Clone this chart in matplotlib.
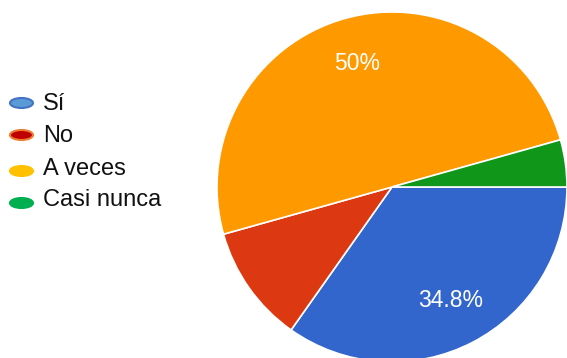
import matplotlib
matplotlib.use("Agg")
from matplotlib import pyplot as plt
from matplotlib.patches import Ellipse

# Survey answers (46 responses)
labels = ["Sí", "No", "A veces", "Casi nunca"]
counts = [16, 5, 23, 2]
pie_colors = ["#3366cc", "#dc3912", "#ff9900", "#109618"]
# legend swatches use a different palette in the original
legend_fill = ["#5b9bd5", "#c00000", "#ffc000", "#00b050"]
legend_edge = ["#4472c4", "#ed7d31", "#ffc000", "#00b050"]

plt.rcParams["font.family"] = ["Liberation Sans", "DejaVu Sans"]

W, H = 567, 358
fig = plt.figure(figsize=(W / 100, H / 100), dpi=100)

# Pie axes: centre at (392, 187) px, radius 175 px
cx, cy, r = 392, 187, 175
ax = fig.add_axes([(cx - r) / W, (H - cy - r) / H, 2 * r / W, 2 * r / H])


def fmt_pct(p):
    if p < 15:
        return ""
    return f"{p:.1f}".rstrip("0").rstrip(".") + "%"


wedges, texts, autotexts = ax.pie(
    counts, colors=pie_colors, startangle=0, counterclock=False,
    autopct=fmt_pct, pctdistance=0.73, radius=1.0,
    wedgeprops=dict(edgecolor="white", linewidth=1.2),
    textprops=dict(color="white", fontsize=16.5),
)
ax.set_xlim(-1, 1)
ax.set_ylim(-1, 1)
ax.set_aspect("equal")
ax.axis("off")

# Hand-drawn legend on the left
lax = fig.add_axes([0, 0, 1, 1])
lax.set_xlim(0, W)
lax.set_ylim(H, 0)
lax.axis("off")
marker_y = [103, 135, 171, 203]
text_y = [104, 136, 169, 200]
for lab, fc, ec, my, ty in zip(labels, legend_fill, legend_edge, marker_y, text_y):
    lax.add_patch(Ellipse((21.5, my), 23, 10, facecolor=fc, edgecolor=ec, linewidth=1.5))
    lax.text(43, ty, lab, fontsize=17, color="#111111", va="center", ha="left")

fig.savefig("out.png", dpi=100)
